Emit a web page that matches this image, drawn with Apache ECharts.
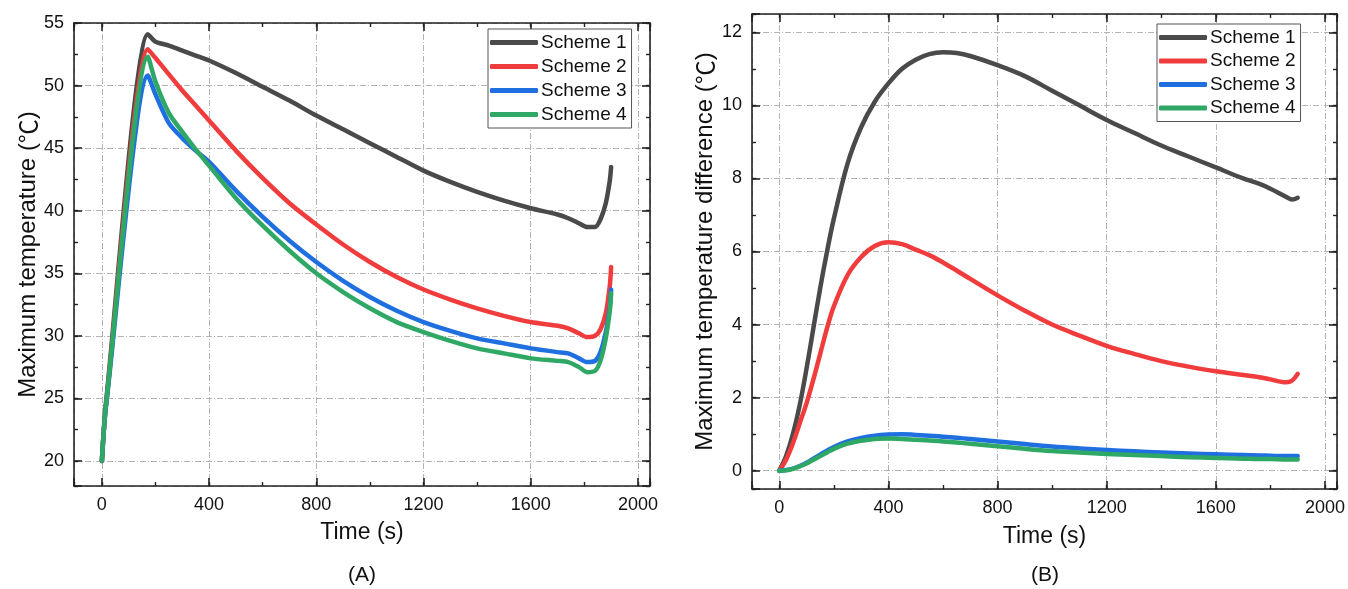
<!DOCTYPE html>
<html>
<head>
<meta charset="utf-8">
<script src="https://cdn.jsdelivr.net/npm/echarts@6/dist/echarts.min.js"></script>
<style>
html,body{margin:0;padding:0;background:#fff;}
#chart{width:1348px;height:589px;}
</style>
</head>
<body>
<div id="chart"></div>
<script>
// ---------- Data ----------
const seriesNames = ['Scheme 1', 'Scheme 2', 'Scheme 3', 'Scheme 4'];
const xTicks = [0, 400, 800, 1200, 1600, 2000];
const yTicksA = [20, 25, 30, 35, 40, 45, 50, 55];
const yTicksB = [0, 2, 4, 6, 8, 10, 12];

// Panel A: maximum temperature (deg C) vs time (s)
const timeA = [0, 15, 172, 200, 250, 300, 350, 400, 500, 600, 700, 800, 900, 1000, 1100, 1200, 1300, 1400, 1500, 1600, 1700, 1740, 1780, 1810, 1840, 1860, 1880, 1895, 1900];
const tempS1 = [20, 24.6, 54.1, 53.5, 53.2, 52.8, 52.4, 52.0, 51.0, 49.9, 48.8, 47.6, 46.5, 45.4, 44.3, 43.2, 42.3, 41.5, 40.8, 40.2, 39.7, 39.4, 39.0, 38.7, 38.7, 39.3, 40.6, 42.4, 43.5];
const tempS2 = [20, 24.4, 52.9, 52.2, 50.9, 49.6, 48.4, 47.2, 44.8, 42.6, 40.6, 38.9, 37.3, 35.9, 34.7, 33.7, 32.9, 32.2, 31.6, 31.1, 30.8, 30.6, 30.2, 29.9, 30.0, 30.5, 31.8, 34.0, 35.5];
const tempS3 = [20, 24.3, 50.8, 49.3, 47.0, 45.8, 44.8, 43.9, 41.6, 39.5, 37.6, 35.9, 34.4, 33.1, 32.0, 31.1, 30.4, 29.8, 29.4, 29.0, 28.7, 28.6, 28.2, 27.9, 28.0, 28.7, 30.3, 32.3, 33.7];
const tempS4 = [20, 24.4, 52.3, 50.3, 47.8, 46.3, 44.9, 43.6, 41.0, 38.8, 36.8, 35.0, 33.5, 32.2, 31.1, 30.3, 29.6, 29.0, 28.6, 28.2, 28.0, 27.9, 27.5, 27.1, 27.2, 28.0, 29.8, 32.0, 33.4];

// Panel B: maximum temperature difference (deg C) vs time (s)
const timeB = [0, 25, 50, 75, 100, 125, 150, 175, 200, 250, 300, 350, 400, 450, 500, 550, 600, 650, 700, 800, 900, 1000, 1100, 1200, 1300, 1400, 1500, 1600, 1700, 1760, 1800, 1857, 1880, 1900];
const diffS1 = [0, 0.4, 1.0, 1.8, 2.8, 3.9, 5.0, 6.0, 6.9, 8.4, 9.4, 10.1, 10.6, 11.0, 11.25, 11.4, 11.45, 11.43, 11.35, 11.1, 10.8, 10.4, 10.0, 9.6, 9.25, 8.9, 8.6, 8.3, 8.0, 7.85, 7.72, 7.5, 7.42, 7.47];
const diffS2 = [0, 0.3, 0.75, 1.3, 1.85, 2.5, 3.2, 3.9, 4.5, 5.35, 5.85, 6.15, 6.25, 6.2, 6.05, 5.9, 5.7, 5.48, 5.25, 4.8, 4.38, 4.0, 3.7, 3.42, 3.2, 3.0, 2.85, 2.72, 2.62, 2.56, 2.5, 2.42, 2.47, 2.65];
const diffS3 = [0, 0.02, 0.06, 0.13, 0.22, 0.33, 0.44, 0.55, 0.65, 0.8, 0.9, 0.96, 0.99, 1.0, 0.98, 0.96, 0.93, 0.9, 0.87, 0.8, 0.73, 0.66, 0.61, 0.57, 0.53, 0.5, 0.47, 0.45, 0.43, 0.42, 0.41, 0.4, 0.4, 0.4];
const diffS4 = [0, 0.01, 0.05, 0.12, 0.2, 0.3, 0.4, 0.5, 0.6, 0.74, 0.82, 0.87, 0.88, 0.87, 0.85, 0.83, 0.8, 0.77, 0.74, 0.67, 0.6, 0.54, 0.5, 0.46, 0.43, 0.4, 0.37, 0.35, 0.33, 0.32, 0.32, 0.31, 0.31, 0.31];

const colors = ['#4a4a4a', '#f03c3c', '#1f6fe0', '#2fa866'];

// ---------- Helpers ----------
const FONT = '"Liberation Sans", Arial, sans-serif';
function pairs(xs, ys) { return xs.map((x, i) => [x, ys[i]]); }
const gridLine = { show: true, lineStyle: { color: '#b4b4b4', width: 1, type: [6, 2, 1, 2] } };
const axisLineStyle = { show: true, onZero: false, lineStyle: { color: '#222', width: 1.6 } };
const hiddenLine = { show: false, onZero: false };
const titleRich = { c: { fontFamily: '"Noto Sans CJK SC", sans-serif', fontSize: 24, color: '#111' } };

function makeX(gridIndex, min, max, nameGap) {
  const main = {
    type: 'value', gridIndex, min, max, position: 'bottom',
    minInterval: 400, maxInterval: 400,
    axisLine: axisLineStyle,
    axisTick: { show: true, inside: true, length: 8, lineStyle: { color: '#222', width: 1.6 } },
    axisLabel: { show: true, color: '#111', fontSize: 18, fontFamily: FONT, margin: 10,
      formatter: v => { const r = Math.round(v); return (Math.abs(v - r) < 1e-6 && xTicks.indexOf(r) >= 0) ? String(r) : ''; } },
    splitLine: gridLine,
    name: 'Time (s)', nameLocation: 'middle', nameGap,
    nameTextStyle: { fontSize: 23, color: '#111', fontFamily: FONT }
  };
  const minor = {
    type: 'value', gridIndex, min, max, position: 'bottom',
    minInterval: 200, maxInterval: 200,
    axisLine: hiddenLine, axisTick: { show: true, inside: true, length: 4, lineStyle: { color: '#222', width: 1.4 } },
    axisLabel: { show: false }, splitLine: { show: false }
  };
  const top = Object.assign({}, main, { position: 'top', axisLabel: { show: false }, splitLine: { show: false }, name: '' });
  const topMinor = Object.assign({}, minor, { position: 'top' });
  return [main, minor, top, topMinor];
}
function makeY(gridIndex, min, max, step, ticks, name, nameGap) {
  const main = {
    type: 'value', gridIndex, min, max, position: 'left',
    minInterval: step, maxInterval: step,
    axisLine: axisLineStyle,
    axisTick: { show: true, inside: true, length: 8, lineStyle: { color: '#222', width: 1.6 } },
    axisLabel: { show: true, color: '#111', fontSize: 18, fontFamily: FONT, margin: 10,
      formatter: v => { const r = Math.round(v); return (Math.abs(v - r) < 1e-6 && ticks.indexOf(r) >= 0) ? String(r) : ''; } },
    splitLine: gridLine,
    name, nameLocation: 'middle', nameGap, nameRotate: 90,
    nameTextStyle: { fontSize: 24, color: '#111', fontFamily: FONT, rich: titleRich }
  };
  const minor = {
    type: 'value', gridIndex, min, max, position: 'left',
    minInterval: step / 2, maxInterval: step / 2,
    axisLine: hiddenLine, axisTick: { show: true, inside: true, length: 4, lineStyle: { color: '#222', width: 1.4 } },
    axisLabel: { show: false }, splitLine: { show: false }
  };
  const right = Object.assign({}, main, { position: 'right', axisLabel: { show: false }, splitLine: { show: false }, name: '' });
  const rightMinor = Object.assign({}, minor, { position: 'right' });
  return [main, minor, right, rightMinor];
}

const xAxes = makeX(0, -104, 2045, 35).concat(makeX(1, -100, 2044, 36));
const yAxes = makeY(0, 18, 55, 5, yTicksA, 'Maximum temperature ({c|℃})', 33)
  .concat(makeY(1, -0.5, 12.5, 2, yTicksB, 'Maximum temperature difference ({c|℃})', 35));

const dataA = [tempS1, tempS2, tempS3, tempS4];
const dataB = [diffS1, diffS2, diffS3, diffS4];
const series = [];
seriesNames.forEach((n, i) => {
  series.push({ type: 'line', name: n, xAxisIndex: 0, yAxisIndex: 0, data: pairs(timeA, dataA[i]),
    showSymbol: false, smooth: 0.25, lineStyle: { color: colors[i], width: 4.5, cap: 'round', join: 'round' },
    itemStyle: { color: colors[i] }, z: 3 + i, animation: false });
});
seriesNames.forEach((n, i) => {
  series.push({ type: 'line', name: n, xAxisIndex: 4, yAxisIndex: 4, data: pairs(timeB, dataB[i]),
    showSymbol: false, smooth: 0.35, lineStyle: { color: colors[i], width: 4.5, cap: 'round', join: 'round' },
    itemStyle: { color: colors[i] }, z: 3 + i, animation: false });
});

function legendAt(left, top, gap) {
  return {
    orient: 'vertical', left, top, data: seriesNames,
    icon: 'roundRect', itemWidth: 48, itemHeight: 5, itemGap: gap,
    padding: [4, 5, 4, 2], borderColor: '#555', borderWidth: 1, backgroundColor: '#fff',
    textStyle: { fontSize: 19, color: '#111', fontFamily: FONT, padding: [0, 0, 0, -2] },
    selectedMode: false, z: 20
  };
}

const option = {
  backgroundColor: '#fff',
  animation: false,
  grid: [
    { left: 74, top: 23, width: 576, height: 463, containLabel: false },
    { left: 752, top: 14, width: 586, height: 475, containLabel: false }
  ],
  xAxis: xAxes,
  yAxis: yAxes,
  legend: [legendAt(488, 29, 5), legendAt(1157, 24, 4.5)],
  series,
  graphic: [
    { type: 'text', left: 348, top: 565, style: { text: '(A)', fontSize: 21, fill: '#111', fontFamily: FONT } },
    { type: 'text', left: 1031, top: 565, style: { text: '(B)', fontSize: 21, fill: '#111', fontFamily: FONT } }
  ]
};
const chart = echarts.init(document.getElementById('chart'), null, { renderer: 'canvas' });
chart.setOption(option);
</script>
</body>
</html>
